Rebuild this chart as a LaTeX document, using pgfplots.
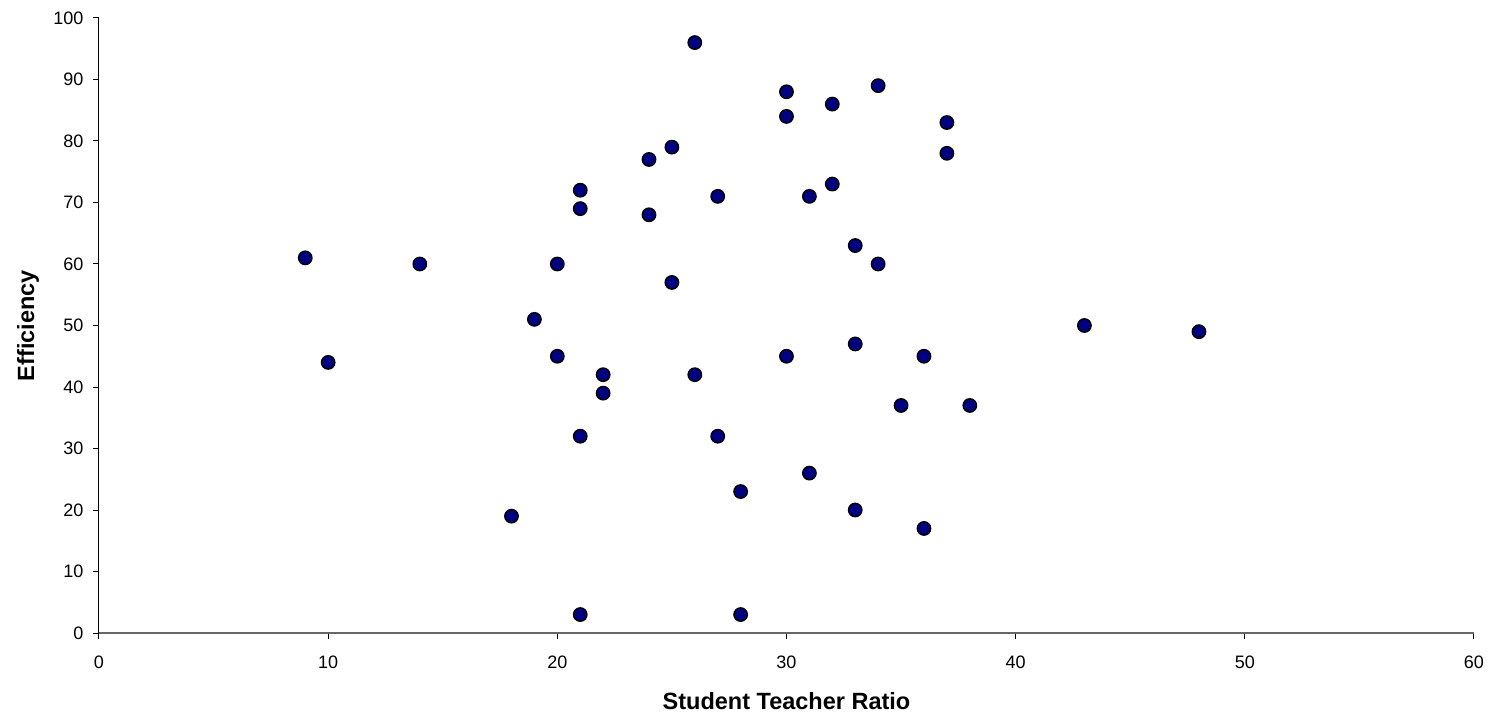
\documentclass[border=0pt]{standalone}
\usepackage{pgfplots}
\pgfplotsset{compat=1.18}
\usepackage{fontspec}
\setmainfont{Liberation Sans}
\definecolor{navy}{RGB}{0,0,128}
\begin{document}
\begin{tikzpicture}
\useasboundingbox (-99pt,-85pt) rectangle (1396pt,633pt);
\begin{axis}[
  at={(0,0)}, anchor=south west,
  scale only axis, width=1375pt, height=615pt,
  xmin=0, xmax=60, ymin=0, ymax=100,
  xtick={0,10,...,60}, ytick={0,10,...,100},
  axis x line*=bottom, axis y line*=left,
  x axis line style={gray!80!black, line width=1.2pt, -},
  y axis line style={black, line width=1pt, -},
  tick style={black, line width=1pt},
  tick align=outside,
  major tick length=6pt,
  /pgf/number format/assume math mode=true,
  ticklabel style={font=\fontsize{18}{21}\selectfont},
  xticklabel style={yshift=-13pt},
  yticklabel style={xshift=-6pt},
  xlabel={\textbf{Student Teacher Ratio}},
  ylabel={\textbf{Efficiency}},
  label style={font=\fontsize{23.5}{27}\selectfont},
  xlabel style={at={(axis description cs:0.5,0)}, anchor=center, yshift=-68pt},
  ylabel style={at={(axis description cs:0,0.5)}, anchor=center, yshift=71pt},
  clip=false,
]
\addplot[only marks, mark=*, mark size=6.7pt, mark options={fill=navy, draw=black, line width=1.4pt}]
coordinates {
(26,96) (30,88) (34,89) (32,86) (30,84) (37,83) (25,79) (24,77) (37,78)
(21,72) (32,73) (27,71) (31,71) (21,69) (24,68) (33,63) (9,61) (14,60)
(20,60) (34,60) (25,57) (19,51) (43,50) (48,49) (33,47) (20,45) (30,45)
(36,45) (10,44) (22,42) (26,42) (22,39) (35,37) (38,37) (21,32) (27,32)
(31,26) (28,23) (18,19) (33,20) (36,17) (21,3) (28,3)
};
\end{axis}
\end{tikzpicture}
\end{document}
